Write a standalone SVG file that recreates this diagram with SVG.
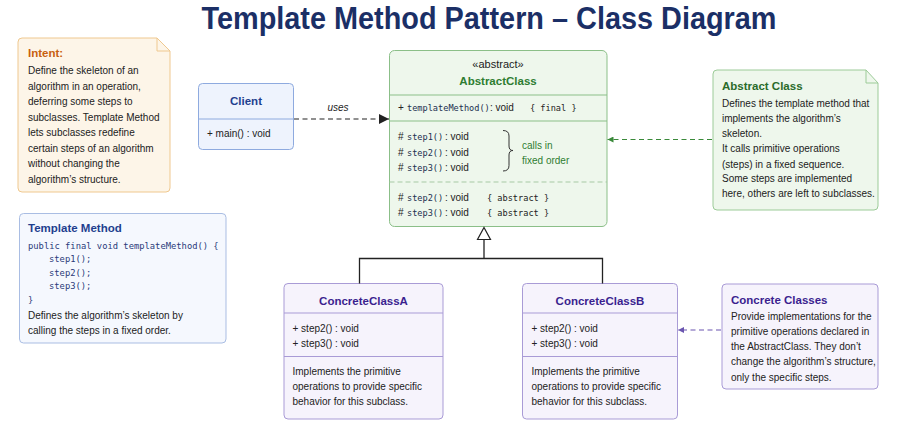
<svg xmlns="http://www.w3.org/2000/svg" width="921" height="423" viewBox="0 0 921 423">
<defs>
<style>
text{font-family:"Liberation Sans",Arial,sans-serif;font-size:10px;fill:#222}
.mono{font-family:"DejaVu Sans Mono","Liberation Mono",monospace;font-size:8.6px}
.code{font-family:"DejaVu Sans Mono","Liberation Mono",monospace;font-size:8.8px;fill:#2a3a7a}
.title{font-size:31px;font-weight:bold;fill:#1b2f66}
.hdr{font-size:11.5px;font-weight:bold}
.blue{fill:#1f3f8f}
.green{fill:#2e7d32}
.purple{fill:#3b1f8f}
.orange{fill:#c8600f}
.navy{fill:#22304f}
.line{fill:none;stroke:#222;stroke-width:1.3}
</style>
<marker id="arrFill" viewBox="0 0 10 10" refX="10" refY="5" markerWidth="10" markerHeight="10" markerUnits="userSpaceOnUse" orient="auto"><path d="M0,0 L10,5 L0,10 z" fill="#222"/></marker>
<marker id="arrGreen" viewBox="0 0 10 10" refX="10" refY="5" markerWidth="6" markerHeight="6" markerUnits="userSpaceOnUse" orient="auto"><path d="M0,0 L10,5 L0,10 z" fill="#3a8a3a"/></marker>
<marker id="arrPurple" viewBox="0 0 10 10" refX="10" refY="5" markerWidth="6" markerHeight="6" markerUnits="userSpaceOnUse" orient="auto"><path d="M0,0 L10,5 L0,10 z" fill="#6a55b0"/></marker>
</defs>
<rect width="921" height="423" fill="#ffffff"/>
<text class="title" x="489" y="28.5" text-anchor="middle" textLength="575" lengthAdjust="spacingAndGlyphs">Template Method Pattern – Class Diagram</text>

<g id="intent-note">
<path d="M22,38 H157 L170,51 V188 a4,4 0 0 1 -4,4 H22 a4,4 0 0 1 -4,-4 V42 a4,4 0 0 1 4,-4 z" fill="#fdf5e8" stroke="#efc88f" stroke-width="1"/>
<path d="M157,38 V51 H170" fill="none" stroke="#efc88f" stroke-width="1"/>
<text class="hdr orange" x="28" y="57">Intent:</text>
<text x="28" y="74">Define the skeleton of an</text>
<text x="28" y="89.5">algorithm in an operation,</text>
<text x="28" y="105">deferring some steps to</text>
<text x="28" y="120.5">subclasses. Template Method</text>
<text x="28" y="136">lets subclasses redefine</text>
<text x="28" y="151.5">certain steps of an algorithm</text>
<text x="28" y="167">without changing the</text>
<text x="28" y="182.5">algorithm’s structure.</text>
</g>

<g id="client">
<rect x="198.5" y="83.5" width="95" height="66" rx="4" fill="#eef3fd" stroke="#8eaadf"/>
<line x1="198.5" y1="119" x2="293.5" y2="119" stroke="#8eaadf"/>
<text class="hdr blue" x="246" y="105" text-anchor="middle">Client</text>
<text x="207" y="137">+ main() : void</text>
</g>

<g id="abstract-class">
<rect x="389.5" y="50.5" width="217.5" height="176" rx="5" fill="#eef7ec" stroke="#8bbf88"/>
<line x1="389.5" y1="95" x2="607" y2="95" stroke="#8bbf88"/>
<line x1="389.5" y1="121" x2="607" y2="121" stroke="#8bbf88"/>
<line x1="389.5" y1="182" x2="607" y2="182" stroke="#a7c9a4" stroke-dasharray="5,3"/>
<text x="498" y="68" text-anchor="middle" style="font-size:11px">«abstract»</text>
<text class="hdr green" x="498" y="85" text-anchor="middle">AbstractClass</text>
<text y="111"><tspan x="398">+</tspan><tspan class="mono navy" x="407">templateMethod()</tspan><tspan x="490">: void</tspan><tspan class="mono" x="530">{ final }</tspan></text>
<text y="140"><tspan x="398">#</tspan><tspan class="mono navy" x="407">step1()</tspan><tspan x="445">: void</tspan></text>
<text y="156"><tspan x="398">#</tspan><tspan class="mono navy" x="407">step2()</tspan><tspan x="445">: void</tspan></text>
<text y="171"><tspan x="398">#</tspan><tspan class="mono navy" x="407">step3()</tspan><tspan x="445">: void</tspan></text>
<path d="M503,130.5 Q509,130.5 509,136 V146 Q509,150.5 513,150.5 Q509,150.5 509,155 V165.5 Q509,171 503,171" fill="none" stroke="#333" stroke-width="1"/>
<text class="green" x="522" y="149">calls in</text>
<text class="green" x="522" y="164">fixed order</text>
<text y="201"><tspan x="398">#</tspan><tspan class="mono navy" x="407">step2()</tspan><tspan x="445">: void</tspan><tspan class="mono" x="487">{ abstract }</tspan></text>
<text y="216"><tspan x="398">#</tspan><tspan class="mono navy" x="407">step3()</tspan><tspan x="445">: void</tspan><tspan class="mono" x="487">{ abstract }</tspan></text>
</g>

<g id="abstract-note">
<path d="M717,70 H866 L878,83 V206 a4,4 0 0 1 -4,4 H717 a4,4 0 0 1 -4,-4 V74 a4,4 0 0 1 4,-4 z" fill="#eef7ec" stroke="#9ccb98"/>
<path d="M866,70 V83 H878" fill="none" stroke="#9ccb98"/>
<text class="hdr green" x="722" y="90" style="fill:#2a6b2a">Abstract Class</text>
<text x="722" y="107">Defines the template method that</text>
<text x="722" y="122">implements the algorithm’s</text>
<text x="722" y="137">skeleton.</text>
<text x="722" y="152">It calls primitive operations</text>
<text x="722" y="167.5">(steps) in a fixed sequence.</text>
<text x="722" y="182">Some steps are implemented</text>
<text x="722" y="197">here, others are left to subclasses.</text>
</g>

<g id="template-method-note">
<rect x="19.5" y="213.5" width="206.5" height="129.5" rx="4" fill="#f5f8fe" stroke="#a9bde3"/>
<text class="hdr blue" x="28" y="232">Template Method</text>
<text class="code" x="28" y="249">public final void templateMethod() {</text>
<text class="code" x="49" y="262">step1();</text>
<text class="code" x="49" y="275.5">step2();</text>
<text class="code" x="49" y="289">step3();</text>
<text class="code" x="28" y="303">}</text>
<text x="28" y="319">Defines the algorithm’s skeleton by</text>
<text x="28" y="334">calling the steps in a fixed order.</text>
</g>

<g id="concrete-a">
<rect x="284" y="283.5" width="159" height="135.5" rx="4" fill="#f6f3fc" stroke="#a99bd6"/>
<line x1="284" y1="313" x2="443" y2="313" stroke="#a99bd6"/>
<line x1="284" y1="356.5" x2="443" y2="356.5" stroke="#a99bd6"/>
<text class="hdr purple" x="363.5" y="305" text-anchor="middle">ConcreteClassA</text>
<text x="292.5" y="331.5">+ step2() : void</text>
<text x="292.5" y="347">+ step3() : void</text>
<text x="292.5" y="375">Implements the primitive</text>
<text x="292.5" y="390">operations to provide specific</text>
<text x="292.5" y="405">behavior for this subclass.</text>
</g>

<g id="concrete-b">
<rect x="522.5" y="283.5" width="155" height="135.5" rx="4" fill="#f6f3fc" stroke="#a99bd6"/>
<line x1="522.5" y1="313" x2="677.5" y2="313" stroke="#a99bd6"/>
<line x1="522.5" y1="356.5" x2="677.5" y2="356.5" stroke="#a99bd6"/>
<text class="hdr purple" x="600" y="305" text-anchor="middle">ConcreteClassB</text>
<text x="531.5" y="331.5">+ step2() : void</text>
<text x="531.5" y="347">+ step3() : void</text>
<text x="531.5" y="375">Implements the primitive</text>
<text x="531.5" y="390">operations to provide specific</text>
<text x="531.5" y="405">behavior for this subclass.</text>
</g>

<g id="concrete-note">
<rect x="722" y="284" width="156" height="105" rx="4" fill="#f6f3fc" stroke="#a99bd6"/>
<text class="hdr purple" x="731" y="304">Concrete Classes</text>
<text x="731" y="320">Provide implementations for the</text>
<text x="731" y="335">primitive operations declared in</text>
<text x="731" y="350">the AbstractClass. They don’t</text>
<text x="731" y="365">change the algorithm’s structure,</text>
<text x="731" y="380.5">only the specific steps.</text>
</g>

<g id="connectors">
<line x1="294" y1="119" x2="389" y2="119" stroke="#222" stroke-width="1.2" stroke-dasharray="5,3.5" marker-end="url(#arrFill)"/>
<text x="338" y="111" text-anchor="middle" style="font-style:italic">uses</text>
<line x1="712" y1="139.5" x2="607.5" y2="139.5" stroke="#3a8a3a" stroke-width="1.1" stroke-dasharray="5,3.5" marker-end="url(#arrGreen)"/>
<line x1="721" y1="330" x2="678" y2="330" stroke="#6a55b0" stroke-width="1.1" stroke-dasharray="5,3.5" marker-end="url(#arrPurple)"/>
<polyline class="line" points="359.5,283.5 359.5,258.5 602.5,258.5 602.5,283.5"/>
<line class="line" x1="484" y1="258.5" x2="484" y2="239.5"/>
<path d="M484,227.5 L490.5,239.5 L477.5,239.5 z" fill="#ffffff" stroke="#222" stroke-width="1.2"/>
</g>
</svg>
